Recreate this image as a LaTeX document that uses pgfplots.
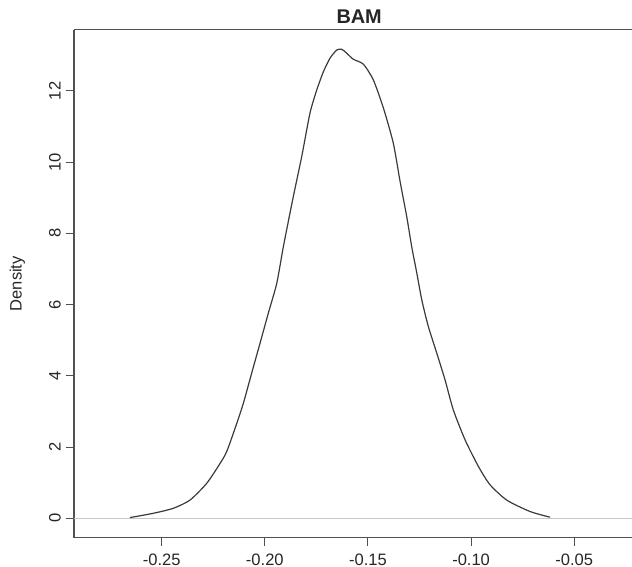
\documentclass[border=0pt]{standalone}
\usepackage{fontspec}
\setmainfont{Liberation Sans}
\usepackage{pgfplots}
\pgfplotsset{compat=1.18}
\definecolor{frame}{HTML}{505050}
\definecolor{curve}{HTML}{3A3A3A}
\definecolor{zero}{HTML}{C8C8C8}

\begin{document}
\begin{tikzpicture}
\begin{axis}[
  scale only axis, width=418.5pt, height=381pt,
  xmin=-0.2925, xmax=-0.022, ymin=-0.545, ymax=13.72,
  axis x line*=box, axis y line*=left,
  axis line style={frame, line width=0.8pt},
  xtick pos=bottom, ytick pos=left,
  tick align=outside, major tick length=6.2pt,
  tick style={frame, line width=0.8pt},
  xtick={-0.25,-0.20,-0.15,-0.10,-0.05},
  xticklabels={-0.25,-0.20,-0.15,-0.10,-0.05},
  ytick={0,2,4,6,8,10,12},
  yticklabels={0,2,4,6,8,10,12},
  ticklabel style={font=\fontsize{12.4}{14}\selectfont, text=black!85},
  xticklabel style={anchor=base, yshift=-14.3pt},
  yticklabel style={rotate=90, anchor=base, yshift=3.75pt},
  title={BAM},
  title style={font=\fontsize{14.9}{17}\bfseries, text=black!85,
    at={(axis description cs:0.511,1)}, anchor=base, yshift=-1.7pt},
  ylabel={Density},
  ylabel style={font=\fontsize{12.4}{14}\selectfont, text=black!85,
    at={(axis description cs:0,0.5)}, anchor=base, yshift=39.2pt},
]
\addplot[zero, line width=0.8pt] coordinates {(-0.2925,0) (-0.022,0)};
\addplot[curve, line width=0.9pt, smooth, tension=0.4] coordinates {
(-0.2654,0.02) (-0.2541,0.14) (-0.2444,0.28) (-0.2363,0.51) (-0.2282,0.98)
(-0.2217,1.54) (-0.2185,1.87) (-0.2144,2.53) (-0.2104,3.23) (-0.2064,4.07)
(-0.2023,4.92) (-0.1983,5.76) (-0.1942,6.60) (-0.1910,7.63) (-0.1862,9.03)
(-0.1821,10.16) (-0.1781,11.38) (-0.1748,12.03) (-0.1716,12.54) (-0.1684,12.92)
(-0.1651,13.15) (-0.1627,13.17) (-0.1603,13.06) (-0.1571,12.89) (-0.1522,12.75)
(-0.1474,12.31) (-0.1425,11.52) (-0.1377,10.53) (-0.1344,9.45) (-0.1312,8.47)
(-0.1288,7.63) (-0.1263,6.88) (-0.1239,6.13) (-0.1207,5.38) (-0.1166,4.63)
(-0.1126,3.88) (-0.1086,3.04) (-0.1029,2.20) (-0.0964,1.45) (-0.0908,0.94)
(-0.0827,0.51) (-0.0714,0.19) (-0.0617,0.03)
};
\end{axis}
\pgfresetboundingbox
\path[use as bounding box] (-55.5pt,-21.975pt) rectangle (418.5pt,403.275pt);
\end{tikzpicture}
\end{document}
